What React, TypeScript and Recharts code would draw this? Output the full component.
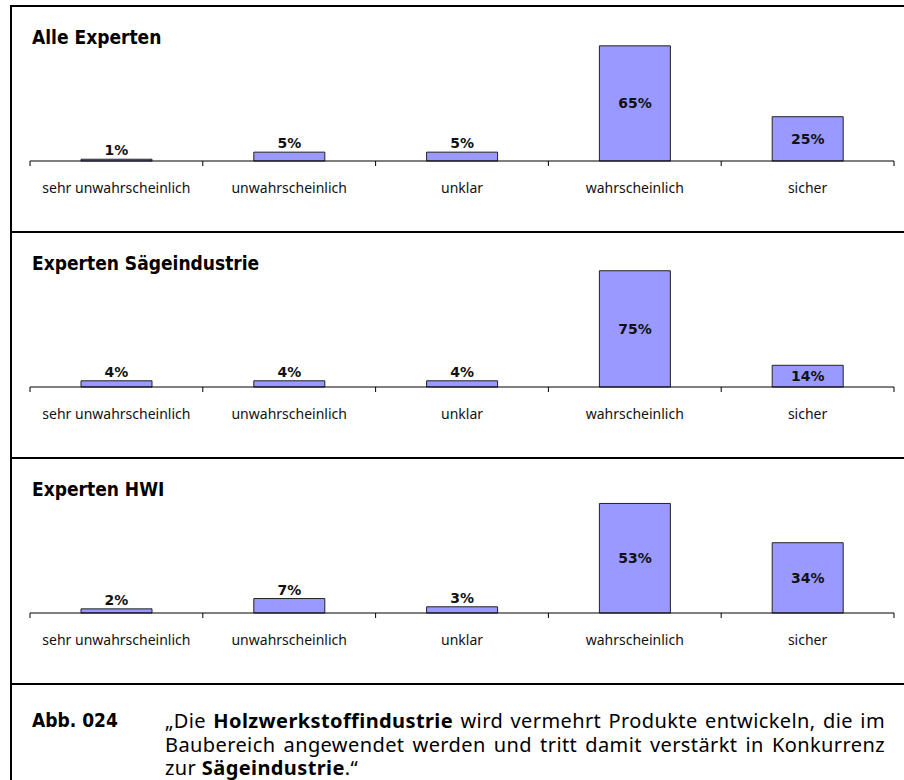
import React from 'react';
import { BarChart, Bar, XAxis, YAxis, LabelList } from 'recharts';

// Answer categories (x axis)
const categories = [
  'sehr unwahrscheinlich',
  'unwahrscheinlich',
  'unklar',
  'wahrscheinlich',
  'sicher',
];

// Shares in percent per expert group
const alleExperten = [1, 5, 5, 65, 25];
const saegeindustrie = [4, 4, 4, 75, 14];
const hwi = [2, 7, 3, 53, 34];

const panelTitles = ['Alle Experten', 'Experten Sägeindustrie', 'Experten HWI'];
const panelValues = [alleExperten, saegeindustrie, hwi];
// upper end of the (hidden) value axis in each panel
const yMax = [70, 80, 60];

const panelTops = [6, 232, 458];

const BAR_FILL = '#9999ff';
const LABEL_FONT = '"DejaVu Sans", sans-serif';
const TITLE_FONT = '"DejaVu Sans Condensed", "DejaVu Sans", sans-serif';
const CAPTION_FONT = '"Noto Sans", sans-serif';

const CategoryTick = (props: any) => {
  const { x, y, payload, index } = props;
  const half = payload && payload.offset ? payload.offset : 86.4;
  return (
    <g>
      <line x1={x - half} x2={x - half} y1={y} y2={y + 5} stroke="#000" strokeWidth={1} />
      {index === categories.length - 1 && (
        <line x1={x + half} x2={x + half} y1={y} y2={y + 5} stroke="#000" strokeWidth={1} />
      )}
      <text
        x={x}
        y={y + 26}
        textAnchor="middle"
        dominantBaseline="central"
        fontFamily='"Noto Sans", sans-serif'
        fontSize={14}
        fill="#111"
      >
        {payload.value}
      </text>
    </g>
  );
};

const ValueLabel = (props: any) => {
  const { x, y, width, height, value } = props;
  const inside = value >= 10;
  const ty = inside ? y + height / 2 : y - 9;
  return (
    <text
      x={x + width / 2}
      y={ty}
      textAnchor="middle"
      dominantBaseline="central"
      fontFamily={LABEL_FONT}
      fontWeight="bold"
      fontSize={14}
      fill="#111"
    >
      {value}%
    </text>
  );
};

const Panel = ({ idx }: { idx: number }) => {
  const data = categories.map((name, i) => ({ name, value: panelValues[idx][i] }));
  const top = panelTops[idx];
  return (
    <>
      <div
        style={{
          position: 'absolute',
          left: 32,
          top: top + 19,
          lineHeight: '24px',
          fontFamily: TITLE_FONT,
          fontWeight: 'bold',
          fontSize: 19,
          color: '#000',
        }}
      >
        {panelTitles[idx]}
      </div>
      <div style={{ position: 'absolute', left: 0, top }}>
        <BarChart
          width={904}
          height={195}
          data={data}
          margin={{ top: 31, right: 10, left: 30, bottom: 0 }}
          barSize={71}
        >
          <XAxis
            dataKey="name"
            height={40}
            interval={0}
            tickSize={0}
            tickMargin={0}
            tickLine={false}
            axisLine={{ stroke: '#000', strokeWidth: 1 }}
            tick={<CategoryTick />}
          />
          <YAxis hide domain={[0, yMax[idx]]} />
          <Bar dataKey="value" fill={BAR_FILL} stroke="#222" strokeWidth={1} isAnimationActive={false}>
            <LabelList dataKey="value" content={<ValueLabel />} />
          </Bar>
        </BarChart>
      </div>
    </>
  );
};

const hLine = (y: number) => (
  <div key={y} style={{ position: 'absolute', left: 10, top: y, width: 894, height: 2, background: '#000' }} />
);

const captionLine: React.CSSProperties = {
  textAlign: 'justify',
  textAlignLast: 'justify',
  whiteSpace: 'nowrap',
  height: 23.5,
  lineHeight: '23.5px',
};

export default function App() {
  return (
    <div
      style={{
        position: 'absolute',
        left: 0,
        top: 0,
        width: 904,
        height: 780,
        overflow: 'hidden',
        background: '#fff',
      }}
    >
      {[5, 231, 457, 683].map(hLine)}
      <div style={{ position: 'absolute', left: 10, top: 5, width: 2, height: 775, background: '#000' }} />
      {panelTitles.map((_, i) => (
        <Panel key={i} idx={i} />
      ))}
      <div
        style={{
          position: 'absolute',
          left: 32,
          top: 709,
          lineHeight: '23.5px',
          fontFamily: TITLE_FONT,
          fontWeight: 'bold',
          fontSize: 19,
        }}
      >
        Abb. 024
      </div>
      <div
        style={{
          position: 'absolute',
          left: 165,
          top: 709,
          width: 720,
          fontFamily: CAPTION_FONT,
          fontSize: 20,
          letterSpacing: 0.4,
          color: '#000',
        }}
      >
        <div style={captionLine}>
          „Die <b>Holzwerkstoffindustrie</b> wird vermehrt Produkte entwickeln, die im
        </div>
        <div style={captionLine}>
          Baubereich angewendet werden und tritt damit verstärkt in Konkurrenz
        </div>
        <div style={{ ...captionLine, textAlignLast: 'left' }}>
          zur <b>Sägeindustrie</b>.“
        </div>
      </div>
    </div>
  );
}
